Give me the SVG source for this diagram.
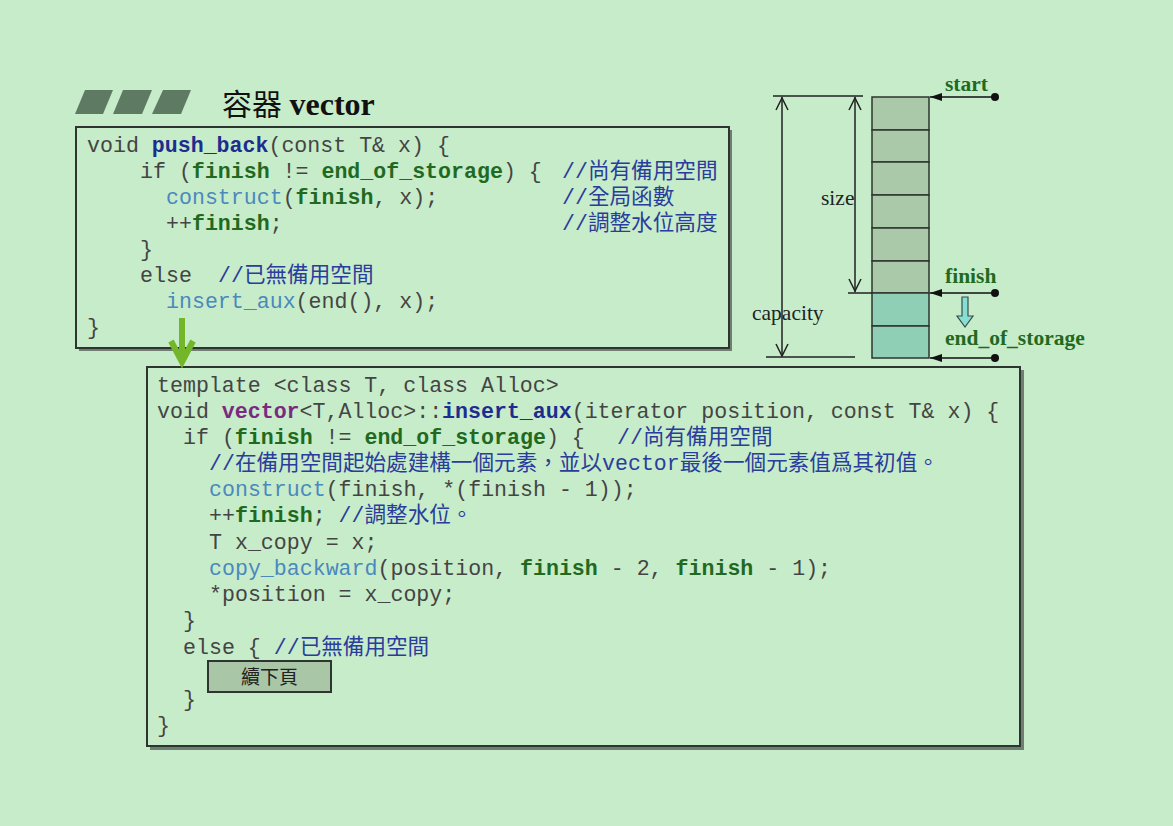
<svg xmlns="http://www.w3.org/2000/svg" width="1173" height="826" viewBox="0 0 1173 826">
<defs>
<style>
.c{font-family:"Liberation Mono","Noto Sans CJK TC",monospace;font-size:21.6px;fill:#444;white-space:pre}
.b{font-weight:bold;fill:#1f6a1f}
.fn{font-weight:bold;fill:#1d2d8f}
.pv{font-weight:bold;fill:#7a2a80}
.lb{fill:#4a88bd}
.cm{fill:#2a3d9c}
.box{fill:#c7ecca;stroke:#2e342f;stroke-width:2}
.shadow{fill:#6f7f71}
.lbl{font-family:"Liberation Serif","Noto Sans CJK TC",serif;font-size:21.5px;fill:#1f6a1f;font-weight:bold}
.dim{font-family:"Liberation Serif",serif;font-size:21.5px;fill:#222}
.cell1{fill:#a9c9a9;stroke:#2e342f;stroke-width:1.5}
.cell2{fill:#8fcfb6;stroke:#2e342f;stroke-width:1.5}
.ln{stroke:#222;stroke-width:1.5;fill:none}
</style>
<marker id="ah" viewBox="0 0 12 8" refX="12" refY="4" markerWidth="12" markerHeight="8" orient="auto" markerUnits="userSpaceOnUse">
<path d="M0,0 L12,4 L0,8 z" fill="#111"/>
</marker>
</defs>
<rect width="1173" height="826" fill="#c7ecca"/>

<g id="title">
<polygon points="85,90 113,90 103,114 75,114" fill="#5f7a63"/>
<polygon points="123,90 152,90 142,114 113,114" fill="#5f7a63"/>
<polygon points="163,90 191,90 181,114 152,114" fill="#5f7a63"/>
<text x="222" y="115" font-family="Liberation Serif,'Noto Sans CJK TC',serif" font-size="30px" fill="#111">容器 <tspan font-weight="bold" font-size="32px">vector</tspan></text>
</g>

<g id="push_back">
<rect class="shadow" x="79" y="130" width="653" height="221"/>
<rect class="box" x="76" y="127" width="653" height="221"/>
<text class="c" x="87" y="152">void <tspan class="fn">push_back</tspan>(const T&amp; x) {</text>
<text class="c" x="140" y="178">if (<tspan class="b">finish</tspan> != <tspan class="b">end_of_storage</tspan>) {</text>
<text class="c cm" x="562" y="178">//尚有備用空間</text>
<text class="c" x="166" y="204"><tspan class="lb">construct</tspan>(<tspan class="b">finish</tspan>, x);</text>
<text class="c cm" x="562" y="204">//全局函數</text>
<text class="c" x="166" y="230">++<tspan class="b">finish</tspan>;</text>
<text class="c cm" x="562" y="230">//調整水位高度</text>
<text class="c" x="140" y="256">}</text>
<text class="c" x="140" y="282">else</text>
<text class="c cm" x="218" y="282">//已無備用空間</text>
<text class="c" x="166" y="308"><tspan class="lb">insert_aux</tspan>(end(), x);</text>
<text class="c" x="87" y="334">}</text>
</g>

<g id="insert_aux">
<rect class="shadow" x="150" y="370" width="874" height="380"/>
<rect class="box" x="147" y="367" width="873" height="379"/>
<text class="c" x="157" y="392">template &lt;class T, class Alloc&gt;</text>
<text class="c" x="157" y="418">void <tspan class="pv">vector</tspan>&lt;T,Alloc&gt;::<tspan class="fn">insert_aux</tspan>(iterator position, const T&amp; x) {</text>
<text class="c" x="183" y="444">if (<tspan class="b">finish</tspan> != <tspan class="b">end_of_storage</tspan>) {</text>
<text class="c cm" x="617" y="444">//尚有備用空間</text>
<text class="c cm" x="209" y="470">//在備用空間起始處建構一個元素，並以vector最後一個元素值爲其初值。</text>
<text class="c" x="209" y="496"><tspan class="lb">construct</tspan>(finish, *(finish - 1));</text>
<text class="c" x="209" y="522">++<tspan class="b">finish</tspan>; <tspan class="cm">//調整水位。</tspan></text>
<text class="c" x="209" y="549">T x_copy = x;</text>
<text class="c" x="209" y="575"><tspan class="lb">copy_backward</tspan>(position, <tspan class="b">finish</tspan> - 2, <tspan class="b">finish</tspan> - 1);</text>
<text class="c" x="209" y="601">*position = x_copy;</text>
<text class="c" x="183" y="627">}</text>
<text class="c" x="183" y="654">else { <tspan class="cm">//已無備用空間</tspan></text>
<text class="c" x="183" y="706">}</text>
<text class="c" x="157" y="732">}</text>
</g>

<g id="continue">
<rect x="208" y="661" width="123" height="31" fill="#a9c6a7" stroke="#2e342f" stroke-width="2"/>
<text x="269.5" y="684" text-anchor="middle" font-family="Liberation Serif,'Noto Sans CJK TC',serif" font-size="19px" fill="#222">續下頁</text>
</g>

<g id="memory">
<rect class="cell1" x="872" y="97" width="57" height="33"/>
<rect class="cell1" x="872" y="130" width="57" height="32"/>
<rect class="cell1" x="872" y="162" width="57" height="33"/>
<rect class="cell1" x="872" y="195" width="57" height="33"/>
<rect class="cell1" x="872" y="228" width="57" height="33"/>
<rect class="cell1" x="872" y="261" width="57" height="32"/>
<rect class="cell2" x="872" y="293" width="57" height="33"/>
<rect class="cell2" x="872" y="326" width="57" height="32"/>
</g>

<g id="labels">
<text class="lbl" x="945" y="91">start</text>
<text class="lbl" x="945" y="283">finish</text>
<text class="lbl" x="945" y="345">end_of_storage</text>
<text class="dim" x="821" y="205">size</text>
<text class="dim" x="752" y="320">capacity</text>
</g>

<g id="connectors">
<line class="ln" x1="773" y1="96" x2="863" y2="96"/>
<line class="ln" x1="766" y1="357" x2="855" y2="357"/>
<line class="ln" x1="782" y1="97" x2="782" y2="356"/>
<polyline class="ln" points="776,110 782,98 788,110"/>
<polyline class="ln" points="776,344 782,356 788,344"/>
<line class="ln" x1="848" y1="293" x2="872" y2="293"/>
<line class="ln" x1="855" y1="97" x2="855" y2="292"/>
<polyline class="ln" points="849,110 855,98 861,110"/>
<polyline class="ln" points="849,279 855,291 861,279"/>
<line x1="995" y1="97" x2="930" y2="97" stroke="#111" stroke-width="1.5" marker-end="url(#ah)"/>
<circle cx="995" cy="97" r="4" fill="#111"/>
<line x1="995" y1="293" x2="930" y2="293" stroke="#111" stroke-width="1.5" marker-end="url(#ah)"/>
<circle cx="995" cy="293" r="4" fill="#111"/>
<line x1="995" y1="358" x2="930" y2="358" stroke="#111" stroke-width="1.5" marker-end="url(#ah)"/>
<circle cx="995" cy="358" r="4" fill="#111"/>
<polygon points="962,297 968,297 968,316 973,316 965,327 957,316 962,316" fill="#86e0d2" stroke="#3a4a50" stroke-width="1.2"/>
<line x1="182" y1="318" x2="182" y2="360" stroke="#74b62a" stroke-width="6"/>
<polyline points="171,341 182,362 193,341" fill="none" stroke="#74b62a" stroke-width="6" stroke-linejoin="miter"/>
</g>
</svg>
